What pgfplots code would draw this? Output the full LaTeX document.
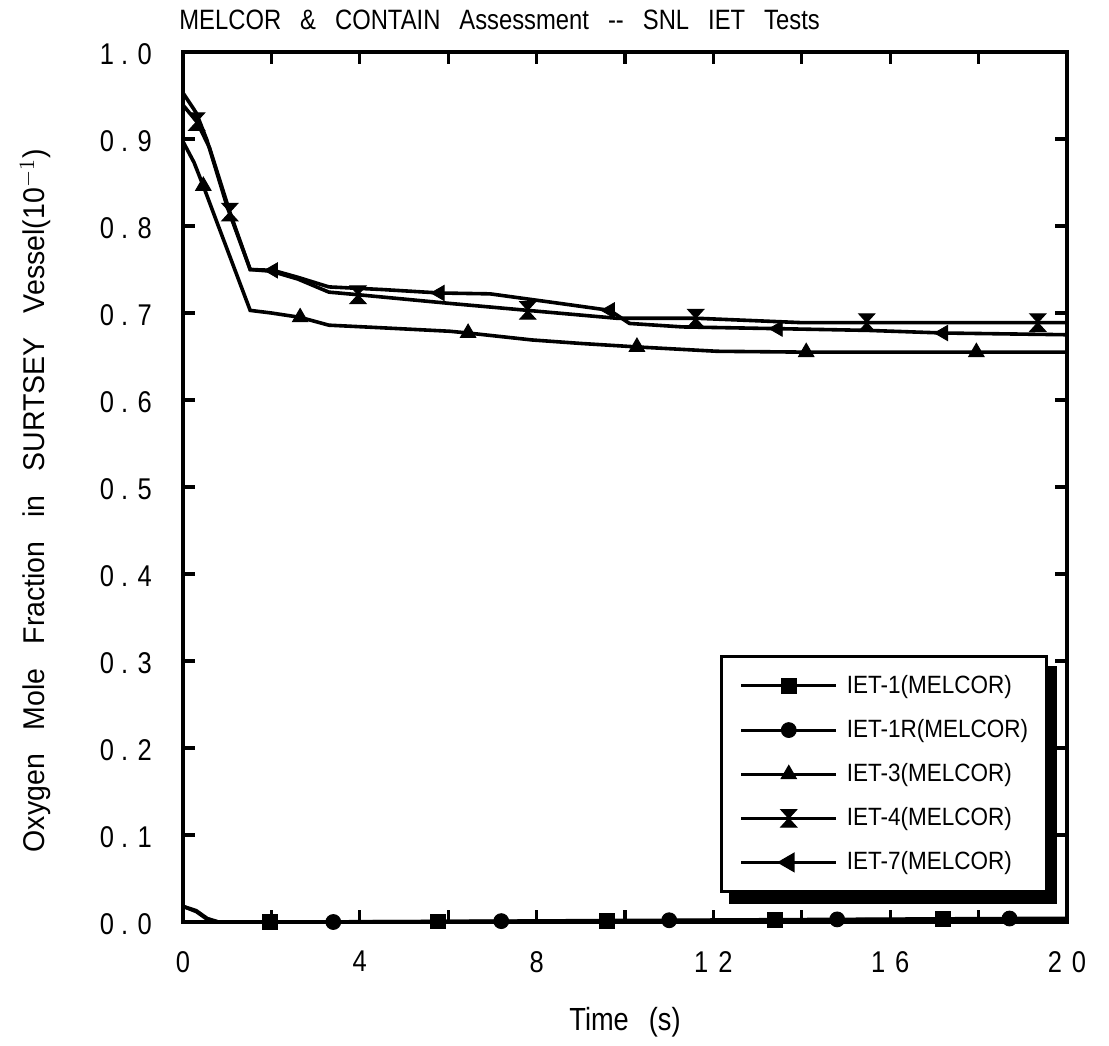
\documentclass[border=0pt]{standalone}
\usepackage{pgfplots}
\pgfplotsset{compat=1.18}
\usepackage{fontspec}
\setmainfont{Liberation Sans}[FakeStretch=0.85]
\newfontfamily\lab{Liberation Sans}[FakeStretch=0.95]
\newfontfamily\leg{Liberation Sans}[FakeStretch=0.9]
\newcommand\W{\hspace{9.5pt}}
\newcommand\Y{\hspace{12pt}}
\pgfdeclareplotmark{hourglass}{%
  \pgfpathmoveto{\pgfqpoint{-\pgfplotmarksize}{1.1\pgfplotmarksize}}%
  \pgfpathlineto{\pgfqpoint{\pgfplotmarksize}{1.1\pgfplotmarksize}}%
  \pgfpathlineto{\pgfqpoint{-\pgfplotmarksize}{-1.1\pgfplotmarksize}}%
  \pgfpathlineto{\pgfqpoint{\pgfplotmarksize}{-1.1\pgfplotmarksize}}%
  \pgfpathclose
  \pgfusepathqfillstroke}
\pgfplotsset{
  curve/.style={black, line width=1.8pt, no marks, forget plot},
  mk/.style={only marks, mark=#1, mark size=3.7pt, mark options={fill=black, solid, line width=0.5pt},
    legend image code/.code={
      \path (0pt,0pt);
      \draw[black, line width=1.5pt] (2pt,0pt) -- (49.5pt,0pt);
      \draw[##1] plot coordinates {(25.75pt,0pt)};
      \path (52pt,0pt);
    }},
}
\begin{document}
\begin{tikzpicture}
\begin{axis}[
  at={(0,0)}, anchor=south west,
  scale only axis, width=442pt, height=435pt,
  xmin=0, xmax=20, ymin=0, ymax=1,
  axis line style={line width=2pt},
  xtick={0,4,8,12,16,20},
  minor xtick={2,6,10,14,18},
  xticklabels={0,4,8,{1\,\,2},{1\,\,6},{2\,\,0}},
  ytick={0,0.1,0.2,0.3,0.4,0.5,0.6,0.7,0.8,0.9,1.0},
  yticklabels={{0 . 0},{0 . 1},{0 . 2},{0 . 3},{0 . 4},{0 . 5},{0 . 6},{0 . 7},{0 . 8},{0 . 9},{1 . 0}},
  tick align=inside,
  major tick length=6pt, minor tick length=6pt,
  every tick/.style={black, line width=1.6pt},
  xticklabel style={font=\fontsize{15}{15}\selectfont, yshift=-11pt},
  yticklabel style={font=\fontsize{15}{15}\selectfont, xshift=-12pt, yshift=-1pt},
  title={MELCOR\W\&\W CONTAIN\W Assessment\W -{}-\W SNL\W IET\W Tests},
  title style={at={(axis description cs:0,1)}, anchor=base west, inner sep=0pt, xshift=-2pt, yshift=5pt,
    font=\fontsize{14}{14}\selectfont},
  xlabel={Time\hspace{10pt}(s)},
  xlabel style={at={(axis description cs:0.5,-0.115)}, anchor=center, font=\fontsize{16}{16}\selectfont},
  ylabel={Oxygen\Y Mole\Y Fraction\Y in\Y SURTSEY\Y Vessel(10$^{-1}$)},
  ylabel style={at={(axis description cs:-0.167,0.484)}, anchor=center,
    font=\lab\fontsize{15}{15}\selectfont},
  legend style={at={(axis description cs:0.978,0.307)}, anchor=north east, name=leg,
    draw=black, line width=1.5pt, fill=white,
    font=\leg\fontsize{12.5}{12.5}\selectfont,
    row sep=7.5pt, inner xsep=7pt, inner ysep=7.5pt,
    nodes={inner sep=2pt}},
  legend cell align=left,
]
% IET-1
\addplot[curve] coordinates {(0,0.018) (0.3,0.013) (0.55,0.004) (0.8,0.0) (1.97,0.0) (5.77,0.0005) (9.6,0.001) (13.4,0.002) (17.2,0.003) (20,0.003)};
\addplot[mk=square*] coordinates {(1.97,0.0) (5.77,0.0005) (9.6,0.001) (13.4,0.002) (17.2,0.003)};
\addlegendentry{IET-1(MELCOR)}
% IET-1R
\addplot[curve] coordinates {(0,0.018) (0.3,0.012) (0.55,0.003) (0.8,0.0) (3.4,0.0) (7.2,0.001) (11.0,0.002) (14.8,0.003) (18.7,0.004) (20,0.004)};
\addplot[mk=*] coordinates {(3.4,0.0) (7.2,0.001) (11.0,0.002) (14.8,0.003) (18.7,0.004)};
\addlegendentry{IET-1R(MELCOR)}
% IET-3
\addplot[curve] coordinates {(0,0.897) (0.25,0.873) (0.46,0.846) (0.8,0.80) (1.52,0.703) (2.0,0.700) (2.65,0.695) (3.3,0.686) (4.5,0.683) (6.04,0.679) (6.45,0.677) (7.9,0.669) (9.0,0.665) (10.27,0.661) (12.08,0.656) (14.1,0.655) (17.95,0.655) (20,0.655)};
\addplot[mk=triangle*, mark size=4.4pt] coordinates {(0.46,0.846) (2.65,0.695) (6.45,0.677) (10.27,0.661) (14.1,0.655) (17.95,0.655)};
\addlegendentry{IET-3(MELCOR)}
% IET-4
\addplot[curve] coordinates {(0,0.939) (0.31,0.92) (0.6,0.89) (1.06,0.816) (1.52,0.750) (2.0,0.748) (2.6,0.739) (3.3,0.724) (3.96,0.721) (5.0,0.716) (6.04,0.711) (7.8,0.703) (9.8,0.694) (11.6,0.694) (13.96,0.689) (15.47,0.689) (19.34,0.689) (20,0.689)};
\addplot[mk=hourglass, mark size=4pt] coordinates {(0.31,0.92) (1.06,0.816) (3.96,0.721) (7.8,0.703) (11.6,0.694) (15.47,0.689) (19.34,0.689)};
\addlegendentry{IET-4(MELCOR)}
% IET-7
\addplot[curve] coordinates {(0,0.953) (0.3,0.93) (0.54,0.899) (1.0,0.822) (1.52,0.750) (2.04,0.749) (2.6,0.741) (3.3,0.730) (4.5,0.727) (5.81,0.723) (6.95,0.722) (8.53,0.711) (9.66,0.703) (10.1,0.688) (11.3,0.684) (13.46,0.682) (15.5,0.680) (17.2,0.677) (20,0.675)};
\addplot[mk=triangle*, mark size=4.4pt, mark options={rotate=90, fill=black, solid}] coordinates {(2.04,0.749) (5.81,0.723) (9.66,0.703) (13.46,0.682) (17.2,0.677)};
\addlegendentry{IET-7(MELCOR)}
\end{axis}
\fill[black] ([yshift=-5.5pt]leg.north east) rectangle ([xshift=4.5pt,yshift=-5.5pt]leg.south east);
\fill[black] ([xshift=4.5pt]leg.south west) rectangle ([xshift=4.5pt,yshift=-5.5pt]leg.south east);
\pgfresetboundingbox
\useasboundingbox (-91.5pt,-61.5pt) rectangle (463pt,461pt);
\end{tikzpicture}
\end{document}
